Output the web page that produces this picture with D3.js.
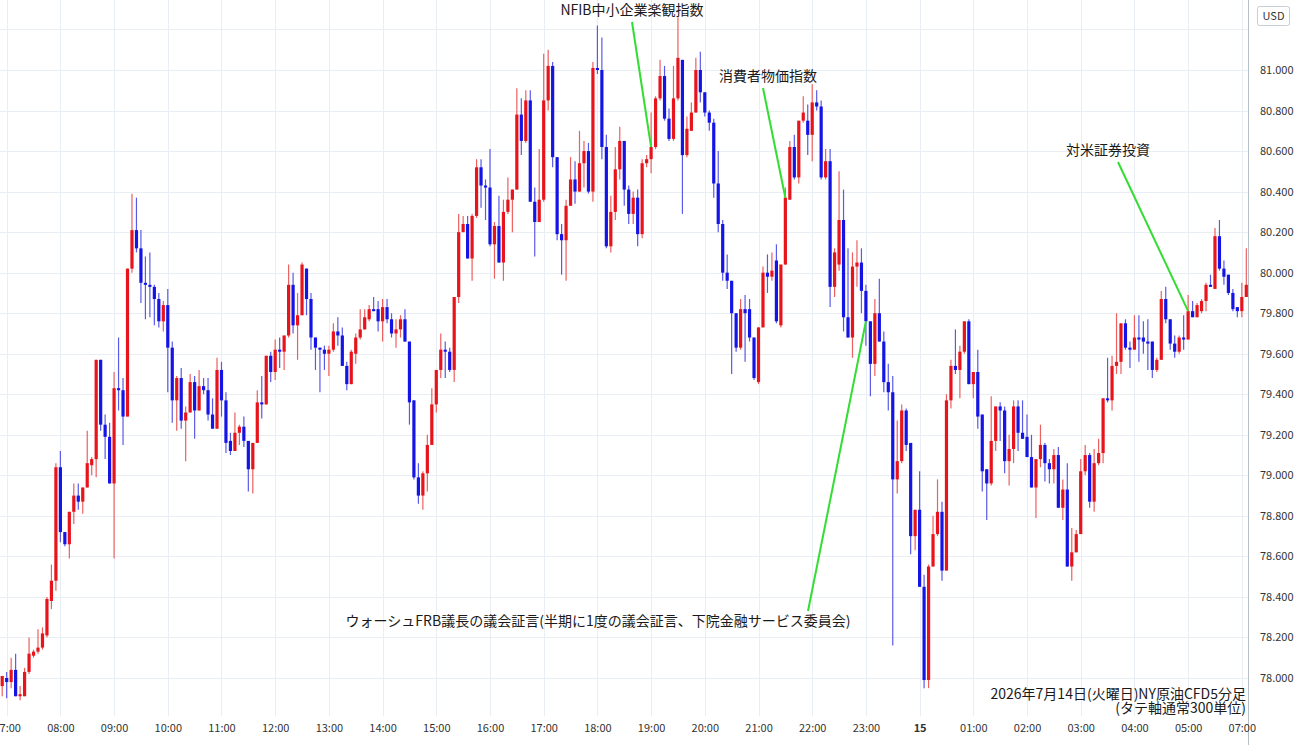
<!DOCTYPE html>
<html><head><meta charset="utf-8">
<script src="https://cdn.jsdelivr.net/npm/d3@7"></script>
<style>
html,body{margin:0;padding:0;background:#fff;}
svg{display:block;}
text{font-family:"Noto Sans CJK JP","Noto Sans",sans-serif;}
</style></head>
<body><svg id="c" width="1300" height="745"></svg>
<script>
// OHLC, 5-minute candles (index 0 = 06:55 of previous session)
const opens = [77.96,78.00,77.98,78.04,77.91,77.91,78.03,78.11,78.13,78.15,78.21,78.38,78.48,79.04,78.72,78.66,78.82,78.90,78.87,78.94,79.05,79.08,79.57,79.25,79.19,78.96,79.43,79.42,79.29,80.02,80.21,80.12,79.95,79.94,79.93,79.87,79.76,79.84,79.63,79.37,79.48,79.27,79.31,79.46,79.32,79.44,79.42,79.30,79.23,79.52,79.37,79.17,79.12,79.21,79.24,79.17,79.03,79.16,79.36,79.35,79.59,79.51,79.62,79.61,79.69,79.94,79.74,79.79,80.02,79.87,79.68,79.63,79.62,79.60,79.62,79.71,79.69,79.54,79.45,79.60,79.68,79.72,79.77,79.82,79.82,79.76,79.83,79.77,79.70,79.72,79.77,79.66,79.37,78.99,78.90,79.01,79.15,79.35,79.52,79.62,79.61,79.52,79.88,80.20,80.24,80.07,80.28,80.52,80.43,80.42,80.14,80.23,80.05,80.30,80.36,80.41,80.78,80.65,80.85,80.35,80.25,80.36,80.85,81.02,80.57,80.19,80.16,80.33,80.46,80.40,80.54,80.60,80.40,81.01,81.00,80.62,80.13,80.30,80.51,80.65,80.41,80.29,80.37,80.19,80.54,80.56,80.62,80.86,80.97,80.76,80.66,80.86,81.05,80.58,80.70,80.79,81.00,80.89,80.79,80.74,80.44,80.24,80.00,79.96,79.80,79.63,79.82,79.82,79.68,79.46,79.73,80.00,79.98,80.06,79.74,80.04,80.36,80.62,80.47,80.75,80.75,80.68,80.84,80.82,80.47,80.55,79.93,80.04,80.26,79.78,79.68,80.03,80.05,79.91,79.76,79.55,79.80,79.66,79.46,79.41,78.98,79.07,79.32,79.16,78.70,78.83,78.45,77.99,78.55,78.71,78.82,78.53,79.37,79.54,79.52,79.61,79.76,79.45,79.51,79.30,79.03,78.96,79.17,79.34,79.32,79.07,79.13,79.34,79.21,79.19,79.09,78.94,79.08,79.15,79.06,79.03,79.10,78.84,78.93,78.55,78.62,78.71,79.02,79.10,78.87,79.06,79.11,79.38,79.37,79.54,79.56,79.75,79.63,79.62,79.68,79.68,79.66,79.66,79.52,79.57,79.87,79.77,79.65,79.61,79.68,79.67,79.81,79.78,79.81,79.86,79.94,79.92,80.18,80.02,79.99,79.90,79.83,79.81,79.88];
const highs = [78.01,78.03,78.10,78.12,77.96,78.05,78.20,78.14,78.24,78.25,78.40,78.56,79.06,79.12,78.72,78.82,78.96,78.96,78.94,79.22,79.09,79.57,79.57,79.30,79.26,79.51,79.68,79.48,80.02,80.39,80.37,80.21,80.08,80.10,79.94,79.90,79.86,79.92,79.66,79.49,79.53,79.34,79.50,79.49,79.52,79.48,79.48,79.38,79.58,79.56,79.41,79.21,79.31,79.25,79.29,79.17,79.16,79.42,79.49,79.59,79.61,79.67,79.68,79.69,80.04,80.00,79.90,80.05,80.02,79.90,79.68,79.63,79.64,79.64,79.75,79.78,79.73,79.56,79.62,79.70,79.82,79.82,79.84,79.88,79.86,79.87,79.87,79.80,79.77,79.79,79.82,79.66,79.37,79.06,79.02,79.20,79.43,79.52,79.70,79.66,79.63,79.88,80.29,80.28,80.28,80.29,80.56,80.56,80.46,80.61,80.25,80.38,80.36,80.47,80.41,80.91,80.86,80.90,80.90,80.42,80.61,81.08,81.10,81.04,80.57,80.24,80.36,80.57,80.55,80.70,80.65,80.64,81.04,81.22,81.16,80.68,80.38,80.62,80.72,80.65,80.43,80.40,80.41,80.56,80.58,80.79,80.87,81.05,81.02,80.81,81.02,81.26,81.05,80.77,80.84,81.06,81.09,80.89,80.80,80.76,80.60,80.26,80.09,79.96,79.80,79.87,79.89,79.87,79.68,79.73,80.03,80.09,80.10,80.14,80.04,80.42,80.65,80.68,80.75,80.87,80.83,80.93,80.90,80.85,80.61,80.61,80.12,80.50,80.41,80.12,80.10,80.16,80.12,79.94,79.76,79.87,79.97,79.71,79.55,79.49,79.27,79.35,79.33,79.16,78.83,79.02,78.51,78.56,78.80,78.98,78.87,79.40,79.57,79.72,79.64,79.76,79.77,79.51,79.62,79.30,79.03,79.39,79.34,79.36,79.34,79.20,79.37,79.37,79.37,79.30,79.20,79.08,79.25,79.16,79.08,79.13,79.14,78.98,79.06,78.74,78.73,79.08,79.15,79.11,79.13,79.18,79.38,79.58,79.59,79.80,79.75,79.77,79.66,79.79,79.79,79.76,79.77,79.66,79.58,79.91,79.93,79.77,79.69,79.69,79.79,79.89,79.86,79.85,79.87,79.95,79.99,80.22,80.26,80.06,79.99,79.92,79.83,79.95,80.12];
const lows = [77.91,77.90,77.95,77.91,77.89,77.91,78.02,78.10,78.12,78.14,78.20,78.34,78.43,78.67,78.65,78.59,78.76,78.83,78.81,78.94,79.00,78.99,79.22,79.08,78.96,78.59,79.32,79.15,79.29,80.00,80.10,79.85,79.77,79.78,79.74,79.73,79.71,79.41,79.26,79.22,79.23,79.07,79.31,79.18,79.32,79.40,79.27,79.23,79.23,79.29,79.11,79.10,79.12,79.15,79.14,78.92,78.91,79.16,79.28,79.35,79.46,79.47,79.53,79.52,79.68,79.70,79.57,79.79,79.79,79.62,79.52,79.41,79.52,79.49,79.61,79.64,79.54,79.42,79.45,79.55,79.67,79.72,79.76,79.81,79.71,79.66,79.75,79.68,79.63,79.68,79.66,79.25,78.98,78.86,78.83,78.92,79.15,79.31,79.48,79.48,79.51,79.46,79.85,80.20,80.07,79.96,80.27,80.32,80.26,80.13,79.97,80.05,79.96,80.29,80.20,80.41,80.58,80.64,80.35,80.08,80.25,80.35,80.80,80.52,80.16,79.99,79.96,80.33,80.34,80.40,80.42,80.39,80.35,80.98,80.56,80.12,80.10,80.26,80.46,80.33,80.24,80.24,80.13,80.17,80.52,80.49,80.61,80.85,80.75,80.65,80.65,80.85,80.29,80.57,80.70,80.79,80.84,80.77,80.70,80.37,80.20,79.96,79.92,79.50,79.61,79.62,79.56,79.66,79.47,79.45,79.73,79.90,79.96,79.75,79.73,80.04,80.36,80.46,80.44,80.74,80.58,80.55,80.80,80.46,80.46,79.83,79.88,80.01,79.71,79.68,79.58,79.93,79.80,79.64,79.39,79.49,79.66,79.41,79.32,78.16,78.91,79.06,79.12,78.61,78.63,78.45,77.95,77.95,78.55,78.70,78.48,78.53,79.33,79.50,79.38,79.60,79.45,79.38,79.23,78.92,78.78,78.95,79.12,79.17,79.01,78.95,79.06,79.12,79.18,79.09,78.94,78.79,79.04,78.97,78.96,78.96,78.84,78.78,78.55,78.48,78.62,78.71,79.00,78.84,78.82,79.05,79.06,79.36,79.32,79.50,79.50,79.62,79.53,79.62,79.56,79.60,79.52,79.48,79.51,79.57,79.75,79.62,79.58,79.60,79.62,79.67,79.78,79.78,79.80,79.81,79.93,79.92,80.01,79.94,79.89,79.81,79.78,79.78,79.88];
const closes = [78.01,77.98,78.04,77.91,77.92,78.03,78.12,78.13,78.15,78.22,78.39,78.48,79.04,78.72,78.66,78.82,78.90,78.87,78.94,79.06,79.08,79.57,79.25,79.19,78.96,79.43,79.42,79.29,80.02,80.21,80.12,79.95,79.94,79.93,79.87,79.76,79.84,79.63,79.37,79.48,79.27,79.31,79.46,79.32,79.44,79.42,79.30,79.23,79.52,79.37,79.16,79.12,79.21,79.24,79.17,79.03,79.16,79.36,79.35,79.59,79.51,79.62,79.61,79.69,79.94,79.74,79.79,80.04,79.87,79.68,79.63,79.62,79.60,79.62,79.71,79.69,79.54,79.45,79.61,79.68,79.72,79.78,79.82,79.81,79.76,79.83,79.77,79.70,79.72,79.77,79.66,79.36,78.99,78.90,79.01,79.15,79.35,79.52,79.62,79.61,79.52,79.88,80.20,80.24,80.07,80.28,80.52,80.43,80.42,80.14,80.23,80.05,80.30,80.36,80.41,80.78,80.65,80.85,80.35,80.25,80.36,80.85,81.02,80.57,80.19,80.16,80.33,80.46,80.40,80.54,80.60,80.40,81.01,81.00,80.62,80.13,80.30,80.51,80.65,80.41,80.29,80.37,80.19,80.54,80.56,80.62,80.86,80.97,80.76,80.66,80.86,81.06,80.58,80.71,80.79,81.00,80.89,80.79,80.74,80.44,80.24,80.00,79.96,79.80,79.63,79.82,79.80,79.68,79.48,79.73,80.00,79.98,80.01,79.76,80.04,80.37,80.62,80.47,80.75,80.79,80.68,80.84,80.82,80.47,80.55,79.93,80.10,80.26,79.78,79.68,80.03,80.05,79.91,79.76,79.55,79.80,79.66,79.46,79.41,78.98,79.07,79.32,79.15,78.70,78.83,78.45,77.99,78.55,78.71,78.82,78.53,79.37,79.54,79.52,79.61,79.76,79.45,79.51,79.29,79.02,78.96,79.17,79.34,79.32,79.07,79.13,79.34,79.21,79.18,79.09,78.94,79.08,79.15,79.06,79.03,79.10,78.84,78.93,78.55,78.62,78.71,79.02,79.10,78.87,79.06,79.11,79.38,79.37,79.54,79.56,79.75,79.63,79.62,79.68,79.67,79.66,79.65,79.52,79.57,79.87,79.77,79.65,79.61,79.68,79.67,79.81,79.78,79.84,79.86,79.94,79.93,80.18,80.02,79.98,79.90,79.82,79.81,79.88,79.94];

// time axis ticks (candle index, label)
const tickIndex = [1,13,25,37,49,61,73,85,97,109,121,133,145,157,169,181,193,205,217,229,241,253,265,277];
const tickLabels = ["07:00","08:00","09:00","10:00","11:00","12:00","13:00","14:00","15:00","16:00","17:00","18:00","19:00","20:00","21:00","22:00","23:00","15","01:00","02:00","03:00","04:00","05:00","07:00"];
const priceTicks = [78.0,78.2,78.4,78.6,78.8,79.0,79.2,79.4,79.6,79.8,80.0,80.2,80.4,80.6,80.8,81.0];
const gridPrices = [77.8,78.0,78.2,78.4,78.6,78.8,79.0,79.2,79.4,79.6,79.8,80.0,80.2,80.4,80.6,80.8,81.0,81.2];

// annotations
const notes = [
  {text:"NFIB中小企業楽観指数", idx:145, tx:632, ty:15, lx:632, ly:22},
  {text:"消費者物価指数", idx:175, tx:768, ty:81, lx:763, ly:88},
  {text:"対米証券投資", idx:265, tx:1108, ty:155, lx:1118, ly:162},
  {text:"ウォーシュFRB議長の議会証言(半期に1度の議会証言、下院金融サービス委員会)", idx:193, tx:598, ty:626, lx:808, ly:611}
];
const caption1 = "2026年7月14日(火曜日)NY原油CFD5分足";
const caption2 = "(タテ軸通常300単位)";

const W = 1300, H = 745, plotRight = 1248, plotBottom = 716;
const svg = d3.select("#c");
svg.append("rect").attr("width",W).attr("height",H).attr("fill","#fff");

const x = d3.scaleLinear().domain([0, 278]).range([2.2, 1246.3]);
const y = d3.scaleLinear().domain([78, 81]).range([678, 70]);

const defs = svg.append("defs");
defs.append("clipPath").attr("id","plot").append("rect").attr("x",0).attr("y",0).attr("width",plotRight).attr("height",plotBottom);

const grid = svg.append("g").attr("clip-path","url(#plot)");
grid.selectAll("line.h").data(gridPrices).join("line")
  .attr("x1",0).attr("x2",plotRight).attr("y1",d=>Math.round(y(d))+0.5).attr("y2",d=>Math.round(y(d))+0.5)
  .attr("stroke","#e8eef3").attr("stroke-width",1);
grid.selectAll("line.v").data(tickIndex).join("line")
  .attr("y1",0).attr("y2",plotBottom).attr("x1",d=>Math.round(x(d))+0.5).attr("x2",d=>Math.round(x(d))+0.5)
  .attr("stroke","#e8eef3").attr("stroke-width",1);

// candles
const data = opens.map((o,i)=>({i,o,h:highs[i],l:lows[i],c:closes[i]}));
const up = "#e8141b", down = "#1414e6";
const cg = svg.append("g").attr("clip-path","url(#plot)");
cg.selectAll("line.w").data(data).join("line")
  .attr("x1",d=>x(d.i)).attr("x2",d=>x(d.i))
  .attr("y1",d=>y(d.h)).attr("y2",d=>y(d.l))
  .attr("stroke",d=>d.c>=d.o?"#ec6060":"#5a5ae8").attr("stroke-width",1.2);
cg.selectAll("rect.b").data(data).join("rect")
  .attr("x",d=>x(d.i)-1.6).attr("width",3.2)
  .attr("y",d=>y(Math.max(d.o,d.c)))
  .attr("height",d=>Math.max(1.2, Math.abs(y(d.o)-y(d.c))))
  .attr("fill",d=>d.c>=d.o?up:down);

// right axis
svg.append("line").attr("x1",plotRight+0.5).attr("x2",plotRight+0.5).attr("y1",0).attr("y2",H).attr("stroke","#b8c0c8");
const yAxis = d3.axisRight(y).tickValues(priceTicks).tickFormat(d3.format(".3f")).tickSize(0).tickPadding(12);
const ya = svg.append("g").attr("transform",`translate(${plotRight},0)`).call(yAxis);
ya.select(".domain").remove();
ya.selectAll("text").attr("font-size",11).attr("fill","#333").attr("font-family","'Noto Sans','DejaVu Sans',sans-serif");

// USD box
svg.append("rect").attr("x",1257.5).attr("y",6.5).attr("width",32).attr("height",19).attr("fill","#fff").attr("stroke","#c8ced4").attr("rx",2);
svg.append("text").attr("x",1273.5).attr("y",20).attr("text-anchor","middle").attr("font-size",11).attr("fill","#333").attr("font-family","'Noto Sans',sans-serif").text("USD");

// bottom time axis strip
const xAxis = d3.axisBottom(x).tickValues(tickIndex).tickFormat((d,k)=>tickLabels[k]).tickSize(0).tickPadding(8);
const xa = svg.append("g").attr("transform",`translate(0,${plotBottom})`).call(xAxis);
xa.select(".domain").remove();
xa.selectAll("text").attr("font-size",11).attr("fill","#333").attr("font-family","'Noto Sans',sans-serif")
  .attr("font-weight",(d,k)=>tickLabels[k]==="15"?"bold":"normal");

// annotations
const ag = svg.append("g");
notes.forEach(n=>{
  const i = n.idx;
  ag.append("line").attr("x1",n.lx).attr("y1",n.ly).attr("x2",x(i)).attr("y2",y(closes[i]))
    .attr("stroke","#33dd33").attr("stroke-width",2);
  ag.append("text").attr("x",n.tx).attr("y",n.ty).attr("text-anchor","middle").attr("font-size",14).attr("fill","#1a1a1a").text(n.text);
});
svg.append("text").attr("x",1246).attr("y",699).attr("text-anchor","end").attr("font-size",14).attr("fill","#1a1a1a").text(caption1);
svg.append("text").attr("x",1246).attr("y",713).attr("text-anchor","end").attr("font-size",14).attr("fill","#1a1a1a").text(caption2);
</script></body></html>
